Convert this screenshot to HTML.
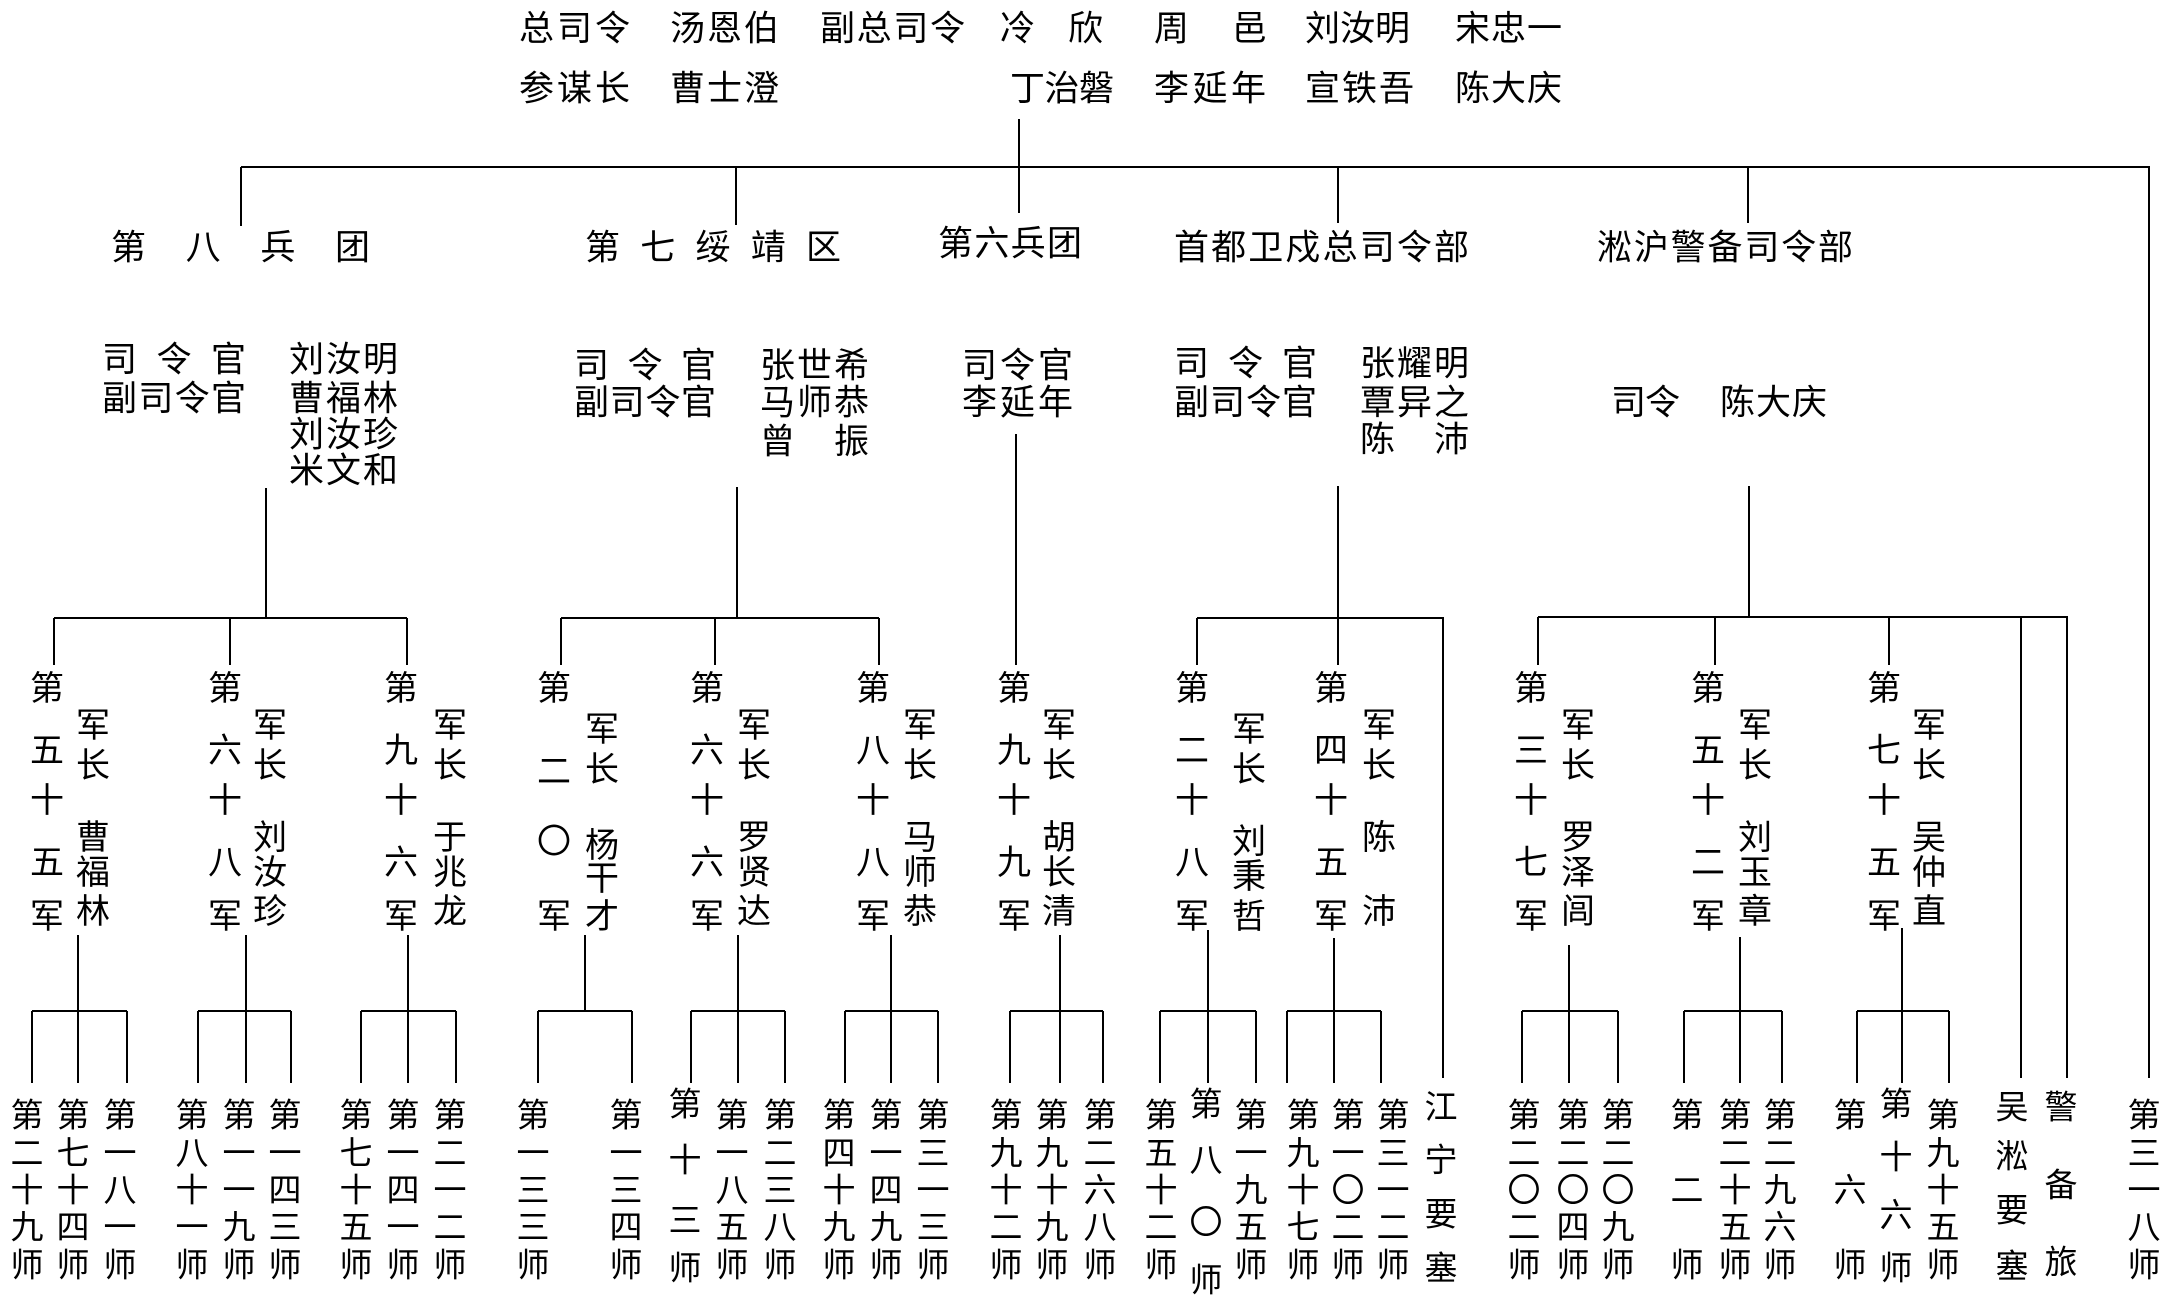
<!DOCTYPE html>
<html><head><meta charset="utf-8"><style>
html,body{margin:0;padding:0;background:#fff;}
svg{display:block;}
text{font-family:"Liberation Sans","Noto Sans CJK SC",sans-serif;fill:#000;text-anchor:middle;dominant-baseline:central;}
.t{font-size:35px;text-anchor:start;}
.m{font-size:34px;}
.d{font-size:33px;}
path{stroke:#000;stroke-width:2;fill:none;}
</style></head><body>
<svg width="2170" height="1296" viewBox="0 0 2170 1296" xmlns="http://www.w3.org/2000/svg">
<g class="t">
<text class="t" x="519" y="29" textLength="111">总司令</text>
<text class="t" x="670" y="29" textLength="109">汤恩伯</text>
<text class="t" x="820" y="29" textLength="145">副总司令</text>
<text class="t" x="1000" y="29">冷</text>
<text class="t" x="1068" y="29">欣</text>
<text class="t" x="1154" y="29">周</text>
<text class="t" x="1232" y="29">邑</text>
<text class="t" x="1305" y="29" textLength="105">刘汝明</text>
<text class="t" x="1455" y="29" textLength="107">宋忠一</text>
<text class="t" x="519" y="89" textLength="111">参谋长</text>
<text class="t" x="670" y="89" textLength="109">曹士澄</text>
<text class="t" x="1010" y="89" textLength="104">丁治磐</text>
<text class="t" x="1154" y="89" textLength="112">李延年</text>
<text class="t" x="1305" y="89" textLength="109">宣铁吾</text>
<text class="t" x="1455" y="89" textLength="107">陈大庆</text>

<text class="t" x="111" y="248" textLength="259">第八兵团</text>
<text class="t" x="585" y="248" textLength="256">第七绥靖区</text>
<text class="t" x="938" y="244" textLength="144">第六兵团</text>
<text class="t" x="1174" y="248" textLength="295">首都卫戍总司令部</text>
<text class="t" x="1597" y="248" textLength="256">淞沪警备司令部</text>

<text class="t" x="102" y="360" textLength="144">司令官</text>
<text class="t" x="102" y="399" textLength="144">副司令官</text>
<text class="t" x="289" y="360" textLength="109">刘汝明</text>
<text class="t" x="289" y="399" textLength="109">曹福林</text>
<text class="t" x="289" y="435" textLength="109">刘汝珍</text>
<text class="t" x="289" y="471" textLength="109">米文和</text>

<text class="t" x="574" y="366" textLength="142">司令官</text>
<text class="t" x="574" y="403" textLength="142">副司令官</text>
<text class="t" x="760" y="366" textLength="109">张世希</text>
<text class="t" x="760" y="403" textLength="109">马师恭</text>
<text class="t" x="760" y="442" textLength="109">曾　振</text>

<text class="t" x="962" y="366" textLength="111">司令官</text>
<text class="t" x="962" y="403" textLength="111">李延年</text>

<text class="t" x="1174" y="364" textLength="143">司令官</text>
<text class="t" x="1174" y="403" textLength="143">副司令官</text>
<text class="t" x="1360" y="364" textLength="109">张耀明</text>
<text class="t" x="1360" y="403" textLength="109">覃异之</text>
<text class="t" x="1360" y="440" textLength="109">陈　沛</text>

<text class="t" x="1611" y="403" textLength="69">司令</text>
<text class="t" x="1720" y="403" textLength="107">陈大庆</text>
</g>

<path d="M1019 119V213 M241 167H2149V1078 M241 167V226 M736 167V225 M1338 167V223 M1748 167V223"/>
<path d="M266 488V618 M54 618H407 M54 618V665 M230 618V665 M407 618V665"/>
<path d="M737 487V618 M561 618H879 M561 618V665 M715 618V665 M879 618V665"/>
<path d="M1016 434V665"/>
<path d="M1338 486V665 M1197 618H1443V1078 M1197 618V665"/>
<path d="M1749 486V617 M1538 617H2067V1078 M1538 617V665 M1715 617V665 M1889 617V665 M2021 617V1078"/>

<path d="M78 935V1083 M32 1011H127 M32 1011V1083 M127 1011V1083"/>
<path d="M246 935V1083 M198 1011H291 M198 1011V1083 M291 1011V1083"/>
<path d="M408 935V1083 M361 1011H456 M361 1011V1083 M456 1011V1083"/>
<path d="M585 935V1011 M538 1011H632 M538 1011V1083 M632 1011V1083"/>
<path d="M738 935V1083 M691 1011H785 M691 1011V1083 M785 1011V1083"/>
<path d="M891 935V1083 M845 1011H938 M845 1011V1083 M938 1011V1083"/>
<path d="M1060 935V1083 M1010 1011H1103 M1010 1011V1083 M1103 1011V1083"/>
<path d="M1208 930V1083 M1160 1011H1256 M1160 1011V1083 M1256 1011V1083"/>
<path d="M1334 938V1083 M1287 1011H1381 M1287 1011V1083 M1381 1011V1083"/>
<path d="M1569 945V1083 M1522 1011H1618 M1522 1011V1083 M1618 1011V1083"/>
<path d="M1740 937V1083 M1684 1011H1782 M1684 1011V1083 M1782 1011V1083"/>
<path d="M1902 928V1083 M1857 1011H1949 M1857 1011V1083 M1949 1011V1083"/>

<g class="m">
<!-- armies: left column -->
<text class="m" x="47" y="689">第</text><text class="m" x="47" y="751">五</text><text class="m" x="47" y="801">十</text><text class="m" x="47" y="863">五</text><text class="m" x="47" y="917">军</text>
<text class="m" x="225" y="689">第</text><text class="m" x="225" y="751">六</text><text class="m" x="225" y="801">十</text><text class="m" x="225" y="863">八</text><text class="m" x="225" y="917">军</text>
<text class="m" x="401" y="689">第</text><text class="m" x="401" y="751">九</text><text class="m" x="401" y="801">十</text><text class="m" x="401" y="863">六</text><text class="m" x="401" y="917">军</text>
<text class="m" x="554" y="689">第</text><text class="m" x="554" y="772">二</text><text class="m" x="554" y="842">〇</text><text class="m" x="554" y="917">军</text>
<text class="m" x="707" y="689">第</text><text class="m" x="707" y="751">六</text><text class="m" x="707" y="801">十</text><text class="m" x="707" y="863">六</text><text class="m" x="707" y="917">军</text>
<text class="m" x="873" y="689">第</text><text class="m" x="873" y="751">八</text><text class="m" x="873" y="801">十</text><text class="m" x="873" y="863">八</text><text class="m" x="873" y="917">军</text>
<text class="m" x="1014" y="689">第</text><text class="m" x="1014" y="751">九</text><text class="m" x="1014" y="801">十</text><text class="m" x="1014" y="863">九</text><text class="m" x="1014" y="917">军</text>
<text class="m" x="1192" y="689">第</text><text class="m" x="1192" y="751">二</text><text class="m" x="1192" y="801">十</text><text class="m" x="1192" y="863">八</text><text class="m" x="1192" y="917">军</text>
<text class="m" x="1331" y="689">第</text><text class="m" x="1331" y="751">四</text><text class="m" x="1331" y="801">十</text><text class="m" x="1331" y="863">五</text><text class="m" x="1331" y="917">军</text>
<text class="m" x="1531" y="689">第</text><text class="m" x="1531" y="751">三</text><text class="m" x="1531" y="801">十</text><text class="m" x="1531" y="863">七</text><text class="m" x="1531" y="917">军</text>
<text class="m" x="1708" y="689">第</text><text class="m" x="1708" y="751">五</text><text class="m" x="1708" y="801">十</text><text class="m" x="1708" y="863">二</text><text class="m" x="1708" y="917">军</text>
<text class="m" x="1884" y="689">第</text><text class="m" x="1884" y="751">七</text><text class="m" x="1884" y="801">十</text><text class="m" x="1884" y="863">五</text><text class="m" x="1884" y="917">军</text>
<!-- armies: right column -->
<text class="m" x="93" y="726">军</text><text class="m" x="93" y="766">长</text><text class="m" x="93" y="838">曹</text><text class="m" x="93" y="873">福</text><text class="m" x="93" y="912">林</text>
<text class="m" x="270" y="726">军</text><text class="m" x="270" y="766">长</text><text class="m" x="270" y="838">刘</text><text class="m" x="270" y="873">汝</text><text class="m" x="270" y="912">珍</text>
<text class="m" x="450" y="726">军</text><text class="m" x="450" y="766">长</text><text class="m" x="450" y="838">于</text><text class="m" x="450" y="873">兆</text><text class="m" x="450" y="912">龙</text>
<text class="m" x="602" y="730">军</text><text class="m" x="602" y="770">长</text><text class="m" x="602" y="846">杨</text><text class="m" x="602" y="879">干</text><text class="m" x="602" y="917">才</text>
<text class="m" x="754" y="726">军</text><text class="m" x="754" y="766">长</text><text class="m" x="754" y="838">罗</text><text class="m" x="754" y="873">贤</text><text class="m" x="754" y="912">达</text>
<text class="m" x="920" y="726">军</text><text class="m" x="920" y="766">长</text><text class="m" x="920" y="838">马</text><text class="m" x="920" y="873">师</text><text class="m" x="920" y="912">恭</text>
<text class="m" x="1059" y="726">军</text><text class="m" x="1059" y="766">长</text><text class="m" x="1059" y="838">胡</text><text class="m" x="1059" y="873">长</text><text class="m" x="1059" y="912">清</text>
<text class="m" x="1249" y="730">军</text><text class="m" x="1249" y="770">长</text><text class="m" x="1249" y="842">刘</text><text class="m" x="1249" y="877">秉</text><text class="m" x="1249" y="917">哲</text>
<text class="m" x="1379" y="726">军</text><text class="m" x="1379" y="766">长</text><text class="m" x="1379" y="838">陈</text><text class="m" x="1379" y="912">沛</text>
<text class="m" x="1578" y="726">军</text><text class="m" x="1578" y="766">长</text><text class="m" x="1578" y="838">罗</text><text class="m" x="1578" y="873">泽</text><text class="m" x="1578" y="912">闾</text>
<text class="m" x="1755" y="726">军</text><text class="m" x="1755" y="766">长</text><text class="m" x="1755" y="838">刘</text><text class="m" x="1755" y="873">玉</text><text class="m" x="1755" y="912">章</text>
<text class="m" x="1929" y="726">军</text><text class="m" x="1929" y="766">长</text><text class="m" x="1929" y="838">吴</text><text class="m" x="1929" y="873">仲</text><text class="m" x="1929" y="912">直</text>
</g>

<g class="d">
<text class="d" x="27" y="1115">第</text><text class="d" x="27" y="1153">二</text><text class="d" x="27" y="1190">十</text><text class="d" x="27" y="1227">九</text><text class="d" x="27" y="1265">师</text>
<text class="d" x="73" y="1115">第</text><text class="d" x="73" y="1153">七</text><text class="d" x="73" y="1190">十</text><text class="d" x="73" y="1227">四</text><text class="d" x="73" y="1265">师</text>
<text class="d" x="120" y="1115">第</text><text class="d" x="120" y="1153">一</text><text class="d" x="120" y="1190">八</text><text class="d" x="120" y="1227">一</text><text class="d" x="120" y="1265">师</text>

<text class="d" x="192" y="1115">第</text><text class="d" x="192" y="1153">八</text><text class="d" x="192" y="1190">十</text><text class="d" x="192" y="1227">一</text><text class="d" x="192" y="1265">师</text>
<text class="d" x="239" y="1115">第</text><text class="d" x="239" y="1153">一</text><text class="d" x="239" y="1190">一</text><text class="d" x="239" y="1227">九</text><text class="d" x="239" y="1265">师</text>
<text class="d" x="285" y="1115">第</text><text class="d" x="285" y="1153">一</text><text class="d" x="285" y="1190">四</text><text class="d" x="285" y="1227">三</text><text class="d" x="285" y="1265">师</text>

<text class="d" x="356" y="1115">第</text><text class="d" x="356" y="1153">七</text><text class="d" x="356" y="1190">十</text><text class="d" x="356" y="1227">五</text><text class="d" x="356" y="1265">师</text>
<text class="d" x="403" y="1115">第</text><text class="d" x="403" y="1153">一</text><text class="d" x="403" y="1190">四</text><text class="d" x="403" y="1227">一</text><text class="d" x="403" y="1265">师</text>
<text class="d" x="450" y="1115">第</text><text class="d" x="450" y="1153">二</text><text class="d" x="450" y="1190">一</text><text class="d" x="450" y="1227">二</text><text class="d" x="450" y="1265">师</text>

<text class="d" x="533" y="1115">第</text><text class="d" x="533" y="1153">一</text><text class="d" x="533" y="1190">三</text><text class="d" x="533" y="1227">三</text><text class="d" x="533" y="1265">师</text>
<text class="d" x="626" y="1115">第</text><text class="d" x="626" y="1153">一</text><text class="d" x="626" y="1190">三</text><text class="d" x="626" y="1227">四</text><text class="d" x="626" y="1265">师</text>

<text class="d" x="685" y="1104">第</text><text class="d" x="685" y="1160">十</text><text class="d" x="685" y="1220">三</text><text class="d" x="685" y="1268">师</text>
<text class="d" x="732" y="1115">第</text><text class="d" x="732" y="1153">一</text><text class="d" x="732" y="1190">八</text><text class="d" x="732" y="1227">五</text><text class="d" x="732" y="1265">师</text>
<text class="d" x="780" y="1115">第</text><text class="d" x="780" y="1153">二</text><text class="d" x="780" y="1190">三</text><text class="d" x="780" y="1227">八</text><text class="d" x="780" y="1265">师</text>

<text class="d" x="839" y="1115">第</text><text class="d" x="839" y="1153">四</text><text class="d" x="839" y="1190">十</text><text class="d" x="839" y="1227">九</text><text class="d" x="839" y="1265">师</text>
<text class="d" x="886" y="1115">第</text><text class="d" x="886" y="1153">一</text><text class="d" x="886" y="1190">四</text><text class="d" x="886" y="1227">九</text><text class="d" x="886" y="1265">师</text>
<text class="d" x="933" y="1115">第</text><text class="d" x="933" y="1153">三</text><text class="d" x="933" y="1190">一</text><text class="d" x="933" y="1227">三</text><text class="d" x="933" y="1265">师</text>

<text class="d" x="1006" y="1115">第</text><text class="d" x="1006" y="1153">九</text><text class="d" x="1006" y="1190">十</text><text class="d" x="1006" y="1227">二</text><text class="d" x="1006" y="1265">师</text>
<text class="d" x="1052" y="1115">第</text><text class="d" x="1052" y="1153">九</text><text class="d" x="1052" y="1190">十</text><text class="d" x="1052" y="1227">九</text><text class="d" x="1052" y="1265">师</text>
<text class="d" x="1100" y="1115">第</text><text class="d" x="1100" y="1153">二</text><text class="d" x="1100" y="1190">六</text><text class="d" x="1100" y="1227">八</text><text class="d" x="1100" y="1265">师</text>

<text class="d" x="1161" y="1115">第</text><text class="d" x="1161" y="1153">五</text><text class="d" x="1161" y="1190">十</text><text class="d" x="1161" y="1227">二</text><text class="d" x="1161" y="1265">师</text>
<text class="d" x="1206" y="1104">第</text><text class="d" x="1206" y="1160">八</text><text class="d" x="1206" y="1222">〇</text><text class="d" x="1206" y="1280">师</text>
<text class="d" x="1251" y="1115">第</text><text class="d" x="1251" y="1153">一</text><text class="d" x="1251" y="1190">九</text><text class="d" x="1251" y="1227">五</text><text class="d" x="1251" y="1265">师</text>

<text class="d" x="1303" y="1115">第</text><text class="d" x="1303" y="1153">九</text><text class="d" x="1303" y="1190">十</text><text class="d" x="1303" y="1227">七</text><text class="d" x="1303" y="1265">师</text>
<text class="d" x="1348" y="1115">第</text><text class="d" x="1348" y="1153">一</text><text class="d" x="1348" y="1190">〇</text><text class="d" x="1348" y="1227">二</text><text class="d" x="1348" y="1265">师</text>
<text class="d" x="1393" y="1115">第</text><text class="d" x="1393" y="1153">三</text><text class="d" x="1393" y="1190">一</text><text class="d" x="1393" y="1227">二</text><text class="d" x="1393" y="1265">师</text>

<text class="d" x="1441" y="1107">江</text><text class="d" x="1441" y="1160">宁</text><text class="d" x="1441" y="1214">要</text><text class="d" x="1441" y="1268">塞</text>

<text class="d" x="1524" y="1115">第</text><text class="d" x="1524" y="1153">二</text><text class="d" x="1524" y="1190">〇</text><text class="d" x="1524" y="1227">二</text><text class="d" x="1524" y="1265">师</text>
<text class="d" x="1573" y="1115">第</text><text class="d" x="1573" y="1153">二</text><text class="d" x="1573" y="1190">〇</text><text class="d" x="1573" y="1227">四</text><text class="d" x="1573" y="1265">师</text>
<text class="d" x="1618" y="1115">第</text><text class="d" x="1618" y="1153">二</text><text class="d" x="1618" y="1190">〇</text><text class="d" x="1618" y="1227">九</text><text class="d" x="1618" y="1265">师</text>

<text class="d" x="1687" y="1115">第</text><text class="d" x="1687" y="1190">二</text><text class="d" x="1687" y="1265">师</text>
<text class="d" x="1735" y="1115">第</text><text class="d" x="1735" y="1153">二</text><text class="d" x="1735" y="1190">十</text><text class="d" x="1735" y="1227">五</text><text class="d" x="1735" y="1265">师</text>
<text class="d" x="1780" y="1115">第</text><text class="d" x="1780" y="1153">二</text><text class="d" x="1780" y="1190">九</text><text class="d" x="1780" y="1227">六</text><text class="d" x="1780" y="1265">师</text>

<text class="d" x="1850" y="1115">第</text><text class="d" x="1850" y="1190">六</text><text class="d" x="1850" y="1265">师</text>
<text class="d" x="1896" y="1104">第</text><text class="d" x="1896" y="1157">十</text><text class="d" x="1896" y="1215">六</text><text class="d" x="1896" y="1268">师</text>
<text class="d" x="1943" y="1115">第</text><text class="d" x="1943" y="1153">九</text><text class="d" x="1943" y="1190">十</text><text class="d" x="1943" y="1227">五</text><text class="d" x="1943" y="1265">师</text>

<text class="d" x="2012" y="1107">吴</text><text class="d" x="2012" y="1156">淞</text><text class="d" x="2012" y="1210">要</text><text class="d" x="2012" y="1266">塞</text>
<text class="d" x="2061" y="1107">警</text><text class="d" x="2061" y="1185">备</text><text class="d" x="2061" y="1262">旅</text>
<text class="d" x="2144" y="1115">第</text><text class="d" x="2144" y="1153">三</text><text class="d" x="2144" y="1190">一</text><text class="d" x="2144" y="1227">八</text><text class="d" x="2144" y="1265">师</text>
</g>
</svg>
</body></html>
